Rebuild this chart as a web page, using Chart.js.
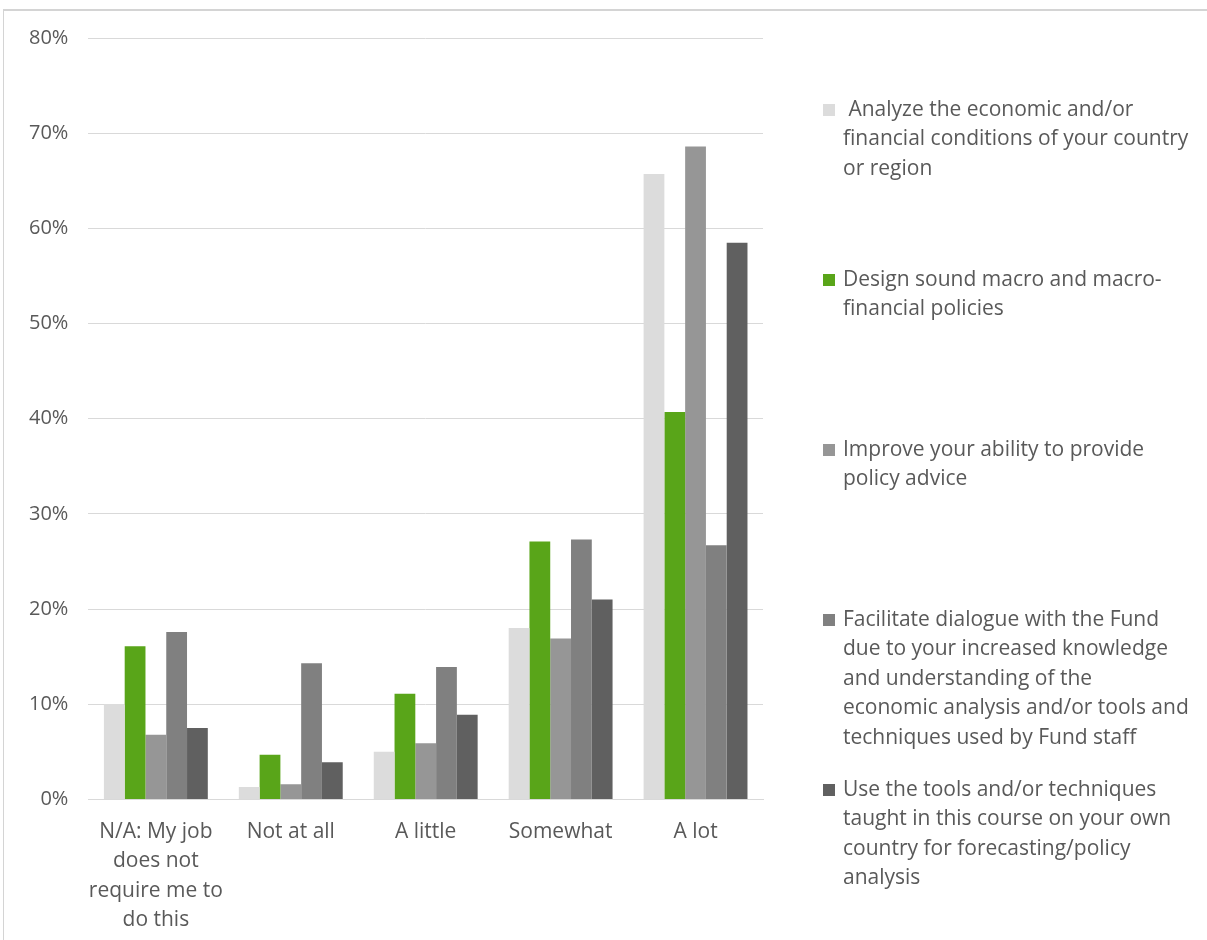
<!DOCTYPE html>
<html>
<head>
<meta charset="utf-8">
<script src="https://cdn.jsdelivr.net/npm/chart.js@4"></script>
<style>
  html, body { margin: 0; padding: 0; background: #fff; }
  #frame {
    position: absolute; left: 3px; top: 9px; width: 1210px; height: 940px;
    border-top: 2px solid #d4d4d4; border-left: 1px solid #d4d4d4;
  }
  #wrap { position: absolute; left: 0; top: 0; width: 1207px; height: 940px; }
</style>
</head>
<body>
<div id="frame"></div>
<div id="wrap"><canvas id="myChart" width="1207" height="940"></canvas></div>
<script>
// categories (answers) and the five statements
const categories = [
    ['N/A: My job', 'does not', 'require me to', 'do this'],
    'Not at all',
    'A little',
    'Somewhat',
    'A lot'
];
const seriesLabels = [
    [' Analyze the economic and/or', 'financial conditions of your country', 'or region'],
    ['Design sound macro and macro-', 'financial policies'],
    ['Improve your ability to provide', 'policy advice'],
    ['Facilitate dialogue with the Fund', 'due to your increased knowledge', 'and understanding of the', 'economic analysis and/or tools and', 'techniques used by Fund staff'],
    ['Use the tools and/or techniques', 'taught in this course on your own', 'country for forecasting/policy', 'analysis']
];
const analyze    = [10.0, 1.3, 5.0, 18.0, 65.7];
const design     = [16.1, 4.7, 11.1, 27.1, 40.7];
const improve    = [6.8, 1.6, 5.9, 16.9, 68.6];
const facilitate = [17.6, 14.3, 13.9, 27.3, 26.7];
const useTools   = [7.5, 3.9, 8.9, 21.0, 58.5];
const colors = ['#dcdcdc', '#59a519', '#969696', '#808080', '#606060'];

const seriesValues = [analyze, design, improve, facilitate, useTools];

// legend drawn at the right, one block per statement
const sideLegend = {
    id: 'sideLegend',
    afterDraw(chart) {
        const c = chart.ctx;
        c.save();
        c.font = '21px "Open Sans"';
        c.textBaseline = 'middle';
        c.textAlign = 'left';
        chart.data.datasets.forEach((ds, i) => {
            const y0 = 110 + i * 170;
            c.fillStyle = ds.backgroundColor;
            c.fillRect(823, y0 - 6, 12, 12);
            c.fillStyle = '#595959';
            seriesLabels[i].forEach((line, j) => {
                c.fillText(line, 843, y0 + j * 29.5);
            });
        });
        c.restore();
    }
};

const ctx = document.getElementById('myChart').getContext('2d');
const myChart = new Chart(ctx, {
    type: 'bar',
    data: {
        labels: categories,
        datasets: seriesValues.map((vals, i) => ({
            label: seriesLabels[i].join(' ').trim(),
            data: vals,
            backgroundColor: colors[i],
            borderWidth: 0,
            categoryPercentage: 0.77,
            barPercentage: 1.0
        }))
    },
    options: {
        responsive: false,
        animation: false,
        layout: {
            padding: { left: 9, right: 444, top: 38, bottom: -5 }
        },
        plugins: {
            legend: { display: false },
            tooltip: { enabled: false }
        },
        scales: {
            x: {
                grid: { display: false },
                border: { color: '#d9d9d9', width: 1 },
                ticks: {
                    color: '#595959',
                    font: { family: 'Open Sans', size: 21, lineHeight: 1.4 },
                    maxRotation: 0,
                    autoSkip: false,
                    padding: 10
                }
            },
            y: {
                min: 0,
                max: 80,
                grid: { color: '#d9d9d9', lineWidth: 1, drawTicks: false },
                border: { display: false },
                ticks: {
                    stepSize: 10,
                    color: '#595959',
                    font: { family: 'Open Sans', size: 20 },
                    padding: 20,
                    callback: function (value) {
                        return value + '%';
                    }
                }
            }
        }
    },
    plugins: [sideLegend]
});
</script>
</body>
</html>
